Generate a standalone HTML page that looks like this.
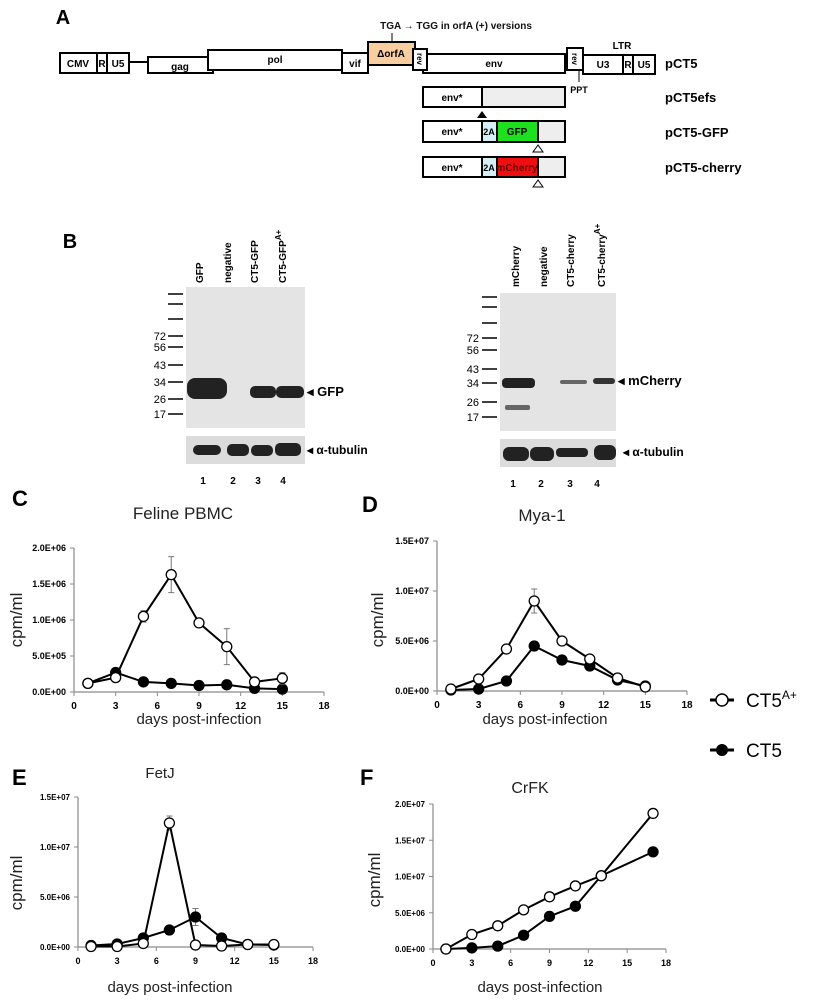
<!DOCTYPE html>
<html><head><meta charset="utf-8">
<style>
body{margin:0;background:#fff;}
svg{display:block;font-family:"Liberation Sans",Arial,sans-serif;}
.b{font-weight:bold;}
</style></head>
<body>
<svg id="fig" width="814" height="1000" viewBox="0 0 814 1000" xmlns="http://www.w3.org/2000/svg">
<!-- PANEL A -->
<g stroke="#000" stroke-width="2" font-size="10" font-weight="bold">
  <text x="63" y="24" font-size="20" stroke="none" text-anchor="middle">A</text>
  <text x="456" y="29" font-size="10" stroke="none" font-weight="bold" text-anchor="middle" fill="#111">TGA → TGG in orfA (+) versions</text>
  <line x1="392" y1="33" x2="392" y2="42" stroke-width="1"/>
  <rect x="60" y="53" width="69" height="20" fill="#fff"/>
  <line x1="97" y1="53" x2="97" y2="73"/><line x1="107" y1="53" x2="107" y2="73"/>
  <text x="78" y="67" stroke="none" text-anchor="middle">CMV</text>
  <text x="102" y="67" stroke="none" text-anchor="middle">R</text>
  <text x="118" y="67" stroke="none" text-anchor="middle">U5</text>
  <line x1="129" y1="62" x2="148" y2="62"/>
  <rect x="148" y="57" width="65" height="16" fill="#fff"/>
  <text x="180" y="70" stroke="none" text-anchor="middle">gag</text>
  <rect x="208" y="50" width="134" height="20" fill="#fff"/>
  <text x="275" y="63" stroke="none" text-anchor="middle">pol</text>
  <rect x="342" y="53" width="26" height="20" fill="#fff"/>
  <text x="355" y="67" stroke="none" text-anchor="middle">vif</text>
  <rect x="368" y="42" width="47" height="23" fill="#f8cda0"/>
  <text x="391" y="57" stroke="none" text-anchor="middle">ΔorfA</text>
  <rect x="423" y="54" width="142" height="19" fill="#fff"/>
  <text x="494" y="67" stroke="none" text-anchor="middle">env</text>
  <rect x="413" y="49" width="14" height="21" fill="#fff"/>
  <text x="420" y="59" stroke="none" text-anchor="middle" font-size="8" transform="rotate(90 420 59)" dy="3">rev</text>
  <rect x="567" y="48" width="16" height="22" fill="#fff"/>
  <text x="575" y="59" stroke="none" text-anchor="middle" font-size="8" transform="rotate(90 575 59)" dy="3">rev</text>
  <line x1="579" y1="70" x2="579" y2="82" stroke-width="1"/>
  <text x="579" y="93" stroke="none" font-size="9" text-anchor="middle">PPT</text>
  <rect x="583" y="55" width="72" height="19" fill="#fff"/>
  <line x1="623" y1="55" x2="623" y2="74"/><line x1="633" y1="55" x2="633" y2="74"/>
  <text x="603" y="68" stroke="none" text-anchor="middle">U3</text>
  <text x="628" y="68" stroke="none" text-anchor="middle">R</text>
  <text x="644" y="68" stroke="none" text-anchor="middle">U5</text>
  <text x="622" y="49" stroke="none" text-anchor="middle">LTR</text>
  <text x="665" y="68" stroke="none" font-size="13">pCT5</text>
  <!-- efs -->
  <rect x="423" y="87" width="142" height="20" fill="#eee"/>
  <rect x="423" y="87" width="59" height="20" fill="#fff"/>
  <text x="452" y="101" stroke="none" text-anchor="middle">env*</text>
  <polygon points="482,111 477,118 487,118" fill="#000" stroke="none"/>
  <text x="665" y="102" stroke="none" font-size="13">pCT5efs</text>
  <!-- GFP -->
  <rect x="423" y="121" width="142" height="21" fill="#eee"/>
  <rect x="423" y="121" width="59" height="21" fill="#fff"/>
  <rect x="482" y="121" width="15" height="21" fill="#d4f0f6"/>
  <rect x="497" y="121" width="41" height="21" fill="#1ee01e"/>
  <text x="452" y="135" stroke="none" text-anchor="middle">env*</text>
  <text x="489" y="135" stroke="none" text-anchor="middle" font-size="9">2A</text>
  <text x="517" y="135" stroke="none" text-anchor="middle">GFP</text>
  <polygon points="538,145 533,152 543,152" fill="#fff" stroke-width="1"/>
  <text x="665" y="137" stroke="none" font-size="13">pCT5-GFP</text>
  <!-- cherry -->
  <rect x="423" y="157" width="142" height="20" fill="#eee"/>
  <rect x="423" y="157" width="59" height="20" fill="#fff"/>
  <rect x="482" y="157" width="15" height="20" fill="#d4f0f6"/>
  <rect x="497" y="157" width="41" height="20" fill="#ee1010"/>
  <text x="452" y="171" stroke="none" text-anchor="middle">env*</text>
  <text x="489" y="171" stroke="none" text-anchor="middle" font-size="9">2A</text>
  <text x="517" y="171" stroke="none" text-anchor="middle" fill="#600">mCherry</text>
  <polygon points="538,180 533,187 543,187" fill="#fff" stroke-width="1"/>
  <text x="665" y="172" stroke="none" font-size="13">pCT5-cherry</text>
</g>

<!-- PANEL B -->
<g font-weight="bold" font-size="10">
  <text x="70" y="248" font-size="20" text-anchor="middle">B</text>
  <!-- left blot -->
  <rect x="186" y="287" width="119" height="141" fill="#e4e4e4"/>
  <rect x="186" y="436" width="119" height="28" fill="#dcdcdc"/>
  <g font-size="10">
    <text transform="translate(203,283) rotate(-90)">GFP</text>
    <text transform="translate(231,283) rotate(-90)">negative</text>
    <text transform="translate(258,283) rotate(-90)">CT5-GFP</text>
    <text transform="translate(286,283) rotate(-90)">CT5-GFP<tspan dy="-5" font-size="8">A+</tspan></text>
  </g>
  <g stroke="#000" stroke-width="1.5">
    <line x1="168" y1="294" x2="183" y2="294"/><line x1="168" y1="304" x2="183" y2="304"/><line x1="168" y1="319" x2="183" y2="319"/>
    <line x1="168" y1="336" x2="183" y2="336"/><line x1="168" y1="347" x2="183" y2="347"/><line x1="168" y1="365" x2="183" y2="365"/>
    <line x1="168" y1="382" x2="183" y2="382"/><line x1="168" y1="399" x2="183" y2="399"/><line x1="168" y1="414" x2="183" y2="414"/>
  </g>
  <g font-weight="normal" font-size="11" text-anchor="end">
    <text x="166" y="340">72</text><text x="166" y="351">56</text><text x="166" y="369">43</text>
    <text x="166" y="386">34</text><text x="166" y="403">26</text><text x="166" y="418">17</text>
  </g>
  <g fill="#222">
    <rect x="187" y="378" width="40" height="21" rx="8"/>
    <rect x="250" y="386" width="26" height="12" rx="5"/>
    <rect x="276" y="386" width="28" height="12" rx="5"/>
    <rect x="193" y="445" width="28" height="10" rx="5"/>
    <rect x="227" y="444" width="22" height="12" rx="5"/>
    <rect x="251" y="445" width="22" height="11" rx="5"/>
    <rect x="275" y="443" width="26" height="13" rx="5"/>
  </g>
  <text x="307" y="396" font-size="13">◂ GFP</text>
  <text x="307" y="454" font-size="12">◂ α-tubulin</text>
  <g text-anchor="middle"><text x="203" y="484">1</text><text x="233" y="484">2</text><text x="258" y="484">3</text><text x="283" y="484">4</text></g>
  <!-- right blot -->
  <rect x="500" y="293" width="116" height="138" fill="#e4e4e4"/>
  <rect x="500" y="439" width="116" height="28" fill="#dcdcdc"/>
  <g font-size="10">
    <text transform="translate(519,287) rotate(-90)">mCherry</text>
    <text transform="translate(547,287) rotate(-90)">negative</text>
    <text transform="translate(574,287) rotate(-90)">CT5-cherry</text>
    <text transform="translate(605,287) rotate(-90)">CT5-cherry<tspan dy="-5" font-size="8">A+</tspan></text>
  </g>
  <g stroke="#000" stroke-width="1.5">
    <line x1="482" y1="297" x2="497" y2="297"/><line x1="482" y1="307" x2="497" y2="307"/><line x1="482" y1="323" x2="497" y2="323"/>
    <line x1="482" y1="338" x2="497" y2="338"/><line x1="482" y1="350" x2="497" y2="350"/><line x1="482" y1="369" x2="497" y2="369"/>
    <line x1="482" y1="383" x2="497" y2="383"/><line x1="482" y1="402" x2="497" y2="402"/><line x1="482" y1="417" x2="497" y2="417"/>
  </g>
  <g font-weight="normal" font-size="11" text-anchor="end">
    <text x="479" y="342">72</text><text x="479" y="354">56</text><text x="479" y="373">43</text>
    <text x="479" y="387">34</text><text x="479" y="406">26</text><text x="479" y="421">17</text>
  </g>
  <g fill="#222">
    <rect x="502" y="378" width="33" height="10" rx="4"/>
    <rect x="505" y="405" width="25" height="5" rx="2" fill="#666"/>
    <rect x="560" y="380" width="27" height="4" rx="2" fill="#666"/>
    <rect x="593" y="378" width="22" height="6" rx="3" fill="#333"/>
    <rect x="503" y="447" width="26" height="14" rx="6"/>
    <rect x="530" y="447" width="24" height="14" rx="6"/>
    <rect x="556" y="448" width="32" height="9" rx="4"/>
    <rect x="594" y="445" width="22" height="15" rx="6"/>
  </g>
  <text x="618" y="385" font-size="13">◂ mCherry</text>
  <text x="623" y="456" font-size="12">◂ α-tubulin</text>
  <g text-anchor="middle"><text x="513" y="487">1</text><text x="541" y="487">2</text><text x="570" y="487">3</text><text x="597" y="487">4</text></g>
</g>

<!-- panel letters / titles for charts -->
<g font-size="22" font-weight="bold">
  <text x="12" y="506">C</text><text x="362" y="512">D</text><text x="12" y="785">E</text><text x="360" y="785">F</text>
</g>
<g font-size="17" text-anchor="middle" fill="#222">
  <text x="183" y="519">Feline PBMC</text><text x="542" y="521">Mya-1</text>
  <text x="160" y="778" font-size="15">FetJ</text><text x="530" y="793" font-size="16">CrFK</text>
</g>
<g>
  <g>
    <line x1="710" y1="700" x2="734" y2="700" stroke="#000" stroke-width="3"/>
    <circle cx="722" cy="700" r="6" fill="#fff" stroke="#000" stroke-width="1.5"/>
    <text x="746" y="707" font-size="19">CT5<tspan dy="-8" font-size="12">A+</tspan></text>
  </g>
  <g>
    <line x1="710" y1="750" x2="734" y2="750" stroke="#000" stroke-width="3"/>
    <circle cx="722" cy="750" r="6" fill="#000"/>
    <text x="746" y="757" font-size="19">CT5</text>
  </g>
</g>
<g id="charts"></g>
</svg>
<script>
// Panel C: Feline PBMC
const cDays=[1,3,5,7,9,11,13,15];
const cCT5A=[0.12e6,0.2e6,1.05e6,1.63e6,0.96e6,0.63e6,0.14e6,0.19e6];
const cCT5AErr=[0.06e6,0,0.08e6,0.25e6,0,0.25e6,0,0.08e6];
const cCT5=[0.12e6,0.27e6,0.14e6,0.12e6,0.09e6,0.1e6,0.05e6,0.04e6];
const cYTicks=[0,5e5,1e6,1.5e6,2e6];
const cYLabels=["0.0E+00","5.0E+05","1.0E+06","1.5E+06","2.0E+06"];
// Panel D: Mya-1
const dDays=[1,3,5,7,9,11,13,15];
const dCT5A=[0.02e7,0.12e7,0.42e7,0.9e7,0.5e7,0.32e7,0.13e7,0.04e7];
const dCT5AErr=[0,0.03e7,0,0.12e7,0,0,0.04e7,0];
const dCT5=[0.01e7,0.02e7,0.1e7,0.45e7,0.31e7,0.25e7,0.11e7,0.05e7];
const dYTicks=[0,5e6,1e7,1.5e7];
const dYLabels=["0.0E+00","5.0E+06","1.0E+07","1.5E+07"];
// Panel E: FetJ
const eDays=[1,3,5,7,9,11,13,15];
const eCT5A=[0.05e6,0.05e6,0.35e6,12.4e6,0.2e6,0.1e6,0.25e6,0.25e6];
const eCT5AErr=[0,0,0,0.7e6,0,0,0,0];
const eCT5=[0.15e6,0.3e6,0.9e6,1.7e6,3.0e6,0.9e6,0.25e6,0.2e6];
const eCT5Err=[0,0,0,0,0.85e6,0,0,0];
const eYTicks=[0,5e6,1e7,1.5e7];
const eYLabels=["0.0E+00","5.0E+06","1.0E+07","1.5E+07"];
// Panel F: CrFK
const fDays=[1,3,5,7,9,11,13,17];
const fCT5A=[0,2.0e6,3.2e6,5.4e6,7.2e6,8.7e6,10.1e6,18.7e6];
const fCT5=[0,0.15e6,0.4e6,1.9e6,4.5e6,5.9e6,10.1e6,13.4e6];
const fYTicks=[0,5e6,1e7,1.5e7,2e7];
const fYLabels=["0.0E+00","5.0E+06","1.0E+07","1.5E+07","2.0E+07"];
const xTicks=[0,3,6,9,12,15,18];

const NS="http://www.w3.org/2000/svg";
const root=document.getElementById('charts');
function mk(tag,attrs,parent){const e=document.createElementNS(NS,tag);for(const k in attrs)e.setAttribute(k,attrs[k]);parent.appendChild(e);return e;}

function drawChart(name,box,yMax,yTicks,yLabels,days,seriesA,errA,seriesB,errB,lblFont,cpm,xl){
  const g=mk('g',{},root);
  
  
  const sx=v=>box.x0+(v/18)*(box.x1-box.x0);
  const sy=v=>box.y0-(v/yMax)*(box.y0-box.yT);
  const ya=mk('line',{x1:box.x0,y1:box.yT,x2:box.x0,y2:box.y0,stroke:'#8a8a8a','stroke-width':1.2},g);
  
  
  const xa=mk('line',{x1:box.x0,y1:box.y0,x2:box.x1,y2:box.y0,stroke:'#8a8a8a','stroke-width':1.2},g);
  
  
  yTicks.forEach((t,i)=>{
    mk('line',{x1:box.x0-4,y1:sy(t),x2:box.x0,y2:sy(t),stroke:'#8a8a8a'},g);
    const tx=mk('text',{x:box.x0-8,y:sy(t)+3,'font-size':lblFont,'font-weight':'bold','text-anchor':'end'},g);
    tx.textContent=yLabels[i];
    
    
  });
  xTicks.forEach(t=>{
    mk('line',{x1:sx(t),y1:box.y0,x2:sx(t),y2:box.y0+4,stroke:'#8a8a8a'},g);
    const tx=mk('text',{x:sx(t),y:box.y0+17,'font-size':lblFont+1,'font-weight':'bold','text-anchor':'middle'},g);
    tx.textContent=t;
    
    
  });
  const yt=mk('text',{transform:`translate(${cpm[0]},${cpm[1]}) rotate(-90)`,'font-size':17,'text-anchor':'middle',fill:'#222'},g);
  yt.textContent='cpm/ml';
  
  
  const xt=mk('text',{x:xl[0],y:xl[1],'font-size':15,'text-anchor':'middle',fill:'#222'},g);
  xt.textContent='days post-infection';
  
  
  function series(vals,errs,open,sname){
    const sg=mk('g',{},g);
    
    
    if(errs) vals.forEach((v,i)=>{ if(errs[i]>0){
      const x=sx(days[i]);
      mk('line',{x1:x,y1:sy(v-errs[i]),x2:x,y2:sy(v+errs[i]),stroke:'#777','stroke-width':1},sg);
      mk('line',{x1:x-3,y1:sy(v+errs[i]),x2:x+3,y2:sy(v+errs[i]),stroke:'#777','stroke-width':1},sg);
      mk('line',{x1:x-3,y1:sy(v-errs[i]),x2:x+3,y2:sy(v-errs[i]),stroke:'#777','stroke-width':1},sg);
    }});
    const pts=vals.map((v,i)=>sx(days[i])+','+sy(v)).join(' ');
    const pl=mk('polyline',{points:pts,fill:'none',stroke:'#000','stroke-width':2},sg);
    
    
    vals.forEach((v,i)=>{
      const c=mk('circle',{cx:sx(days[i]),cy:sy(v),r:5,fill:open?'#fff':'#000',stroke:'#000','stroke-width':1.3},sg);
      
      
    });
  }
  series(seriesB,errB,false,'ct5-series');
  series(seriesA,errA,true,'ct5a-series');
}
drawChart('chart-feline-pbmc',{x0:74,x1:324,y0:692,yT:548},2e6,cYTicks,cYLabels,cDays,cCT5A,cCT5AErr,cCT5,null,9,[22,620],[199,724]);
drawChart('chart-mya-1',{x0:437,x1:687,y0:691,yT:541},1.5e7,dYTicks,dYLabels,dDays,dCT5A,dCT5AErr,dCT5,null,9,[383,620],[545,724]);
drawChart('chart-fetj',{x0:78,x1:313,y0:947,yT:797},1.5e7,eYTicks,eYLabels,eDays,eCT5A,eCT5AErr,eCT5,eCT5Err,8,[22,883],[170,992]);
drawChart('chart-crfk',{x0:433,x1:666,y0:949,yT:804},2e7,fYTicks,fYLabels,fDays,fCT5A,null,fCT5,null,8,[380,880],[540,992]);
</script>
</body></html>
